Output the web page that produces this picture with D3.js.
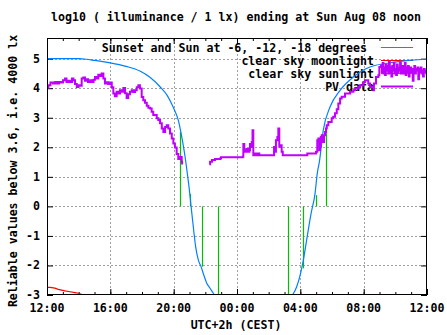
<!DOCTYPE html>
<html><head><meta charset="utf-8">
<script src="https://cdn.jsdelivr.net/npm/d3@7"></script>
<style>
html,body{margin:0;padding:0;background:#fff;}
svg{display:block;}
text{font-family:"DejaVu Sans Mono","Liberation Mono",monospace;font-weight:bold;font-size:11.6px;fill:#000;}
</style></head>
<body>
<script>
// ---- data (hours counted from Saturday 00:00; 12 = Sat 12:00, 36 = Sun 12:00) ----
const titleText = "log10 ( illuminance / 1 lx) ending at Sun Aug 08 noon";
const yLabelText = "Reliable values below 3.6, i.e. 4000 lx";
const xLabelText = "UTC+2h (CEST)";
const xTickHours = [12, 16, 20, 24, 28, 32, 36];
const xTickLabels = ["12:00", "16:00", "20:00", "00:00", "04:00", "08:00", "12:00"];
const yTicks = [-3, -2, -1, 0, 1, 2, 3, 4, 5];
const legendLabels = ["Sunset and Sun at -6, -12, -18 degrees", "clear sky moonlight", "clear sky sunlight", "PV data"];

// sunset / sun at -6, -12, -18 degrees (impulses from 0 to clear-sky value)
const sunEventHours = [20.42, 21.01, 21.81, 22.78, 27.24, 28.19, 28.97, 29.61];
const sunEventValues = [2.52, 0.42, -2.04, -3.5, -3.5, -2.1, 0.38, 2.55];

// clear sky moonlight
const moonData = [[12.0, -2.74], [12.2, -2.74], [12.5, -2.77], [12.71, -2.81], [13.14, -2.86], [13.45, -2.89], [13.77, -2.92], [13.99, -2.94], [14.29, -3.0], [14.6, -3.1]];

// clear sky sunlight
const sunData = [[12.0, 5.0], [13.0, 5.0], [14.0, 5.0], [14.5, 4.98], [15.0, 4.94], [16.0, 4.86], [17.0, 4.74], [17.87, 4.58], [18.5, 4.37], [19.14, 4.05], [19.6, 3.75], [19.96, 3.37], [20.3, 2.9], [20.47, 2.47], [20.62, 2.02], [20.72, 1.68], [20.89, 1.0], [20.97, 0.66], [21.1, 0.0], [21.24, -0.69], [21.39, -1.37], [21.56, -1.82], [21.73, -2.04], [21.87, -2.27], [22.09, -2.6], [22.3, -2.77], [22.5, -2.94], [22.7, -3.1], [27.3, -3.1], [27.5, -3.0], [27.77, -2.72], [28.0, -2.3], [28.19, -1.82], [28.44, -1.0], [28.68, -0.24], [28.93, 0.44], [29.07, 1.12], [29.2, 1.5], [29.45, 2.58], [29.88, 3.37], [30.51, 3.93], [31.35, 4.38], [32.4, 4.72], [34.09, 4.89], [35.0, 4.95], [36.0, 4.98]];

// PV data (null = gap)
const pvData = [[12.02, 4.02], [12.09, 4.10], [12.22, 4.19], [12.38, 4.16], [12.51, 4.21], [12.63, 4.16], [12.76, 4.21], [12.88, 4.19], [13.01, 4.27], [13.14, 4.33], [13.23, 4.21], [13.33, 4.25], [13.45, 4.21], [13.58, 4.33], [13.67, 4.27], [13.77, 4.14], [13.88, 4.04], [13.99, 4.10], [14.08, 4.08], [14.19, 4.33], [14.29, 4.36], [14.40, 4.25], [14.51, 4.30], [14.59, 4.21], [14.72, 4.27], [14.84, 4.21], [14.94, 4.29], [15.03, 4.38], [15.14, 4.33], [15.24, 4.46], [15.35, 4.41], [15.45, 4.50], [15.56, 4.33], [15.66, 4.16], [15.77, 4.20], [15.87, 4.14], [15.98, 4.19], [16.09, 4.03], [16.19, 3.82], [16.29, 3.73], [16.40, 3.88], [16.50, 3.82], [16.61, 3.93], [16.72, 3.88], [16.82, 4.01], [16.93, 3.83], [17.03, 3.67], [17.13, 3.80], [17.24, 3.88], [17.35, 3.93], [17.45, 3.87], [17.56, 3.93], [17.67, 4.03], [17.77, 4.10], [17.87, 3.99], [17.98, 3.70], [18.08, 3.59], [18.19, 3.51], [18.30, 3.41], [18.40, 3.34], [18.51, 3.31], [18.61, 3.20], [18.71, 3.09], [18.82, 3.09], [18.93, 2.98], [19.03, 2.92], [19.14, 2.81], [19.25, 2.64], [19.35, 2.52], [19.46, 2.69], [19.56, 2.75], [19.66, 2.64], [19.77, 2.47], [19.88, 2.30], [19.98, 2.13], [20.08, 1.99], [20.19, 1.77], [20.29, 1.60], [20.40, 1.67], [20.51, 1.51], [20.53, 1.42],
  null,
  [22.25, 1.43], [22.30, 1.51], [22.42, 1.57], [22.61, 1.60], [22.93, 1.62], [22.99, 1.66], [24.19, 1.66], [24.36, 1.68], [24.40, 2.11], [24.46, 1.90], [24.51, 1.85], [24.60, 1.94], [24.70, 1.85], [24.78, 1.90], [24.82, 2.11], [24.88, 2.01], [24.93, 2.18], [24.98, 2.58], [25.03, 1.73], [25.14, 1.79], [25.23, 1.73], [25.33, 1.79], [25.41, 1.73], [26.29, 1.73], [26.34, 2.01], [26.40, 1.85], [26.46, 2.24], [26.55, 2.35], [26.61, 2.64], [26.67, 2.02], [26.75, 2.07], [26.82, 1.85], [26.89, 1.73], [28.42, 1.73], [28.44, 1.79], [28.93, 1.79], [28.99, 1.85], [29.07, 2.24], [29.14, 2.30], [29.20, 1.90], [29.24, 2.02], [29.29, 2.35], [29.35, 2.41], [29.41, 2.18], [29.50, 2.41], [29.56, 2.52], [29.62, 2.64], [29.67, 2.75], [29.77, 2.86], [29.83, 2.86], [29.98, 2.98], [30.08, 3.03], [30.19, 3.15], [30.30, 3.29], [30.40, 3.48], [30.51, 3.65], [30.61, 3.71], [30.71, 3.71], [30.82, 3.82], [31.03, 3.82], [31.14, 3.88], [31.35, 3.93], [31.45, 3.99], [31.66, 4.04], [31.77, 4.10], [31.98, 4.21], [32.08, 4.27], [32.19, 4.27], [32.29, 4.16], [32.40, 4.04], [32.51, 4.04], [32.61, 3.93], [32.65, 4.16], [32.78, 4.38], [32.93, 4.44], [32.99, 4.72], [33.10, 4.78],
  [33.15, 4.55], [33.2, 4.85], [33.25, 4.5], [33.3, 4.7], [33.35, 4.45], [33.4, 4.8], [33.45, 4.6], [33.5, 4.75], [33.55, 4.5], [33.6, 4.9], [33.65, 4.55], [33.7, 4.7], [33.75, 4.4], [33.8, 4.75], [33.85, 4.6], [33.9, 4.85], [33.95, 4.5], [34.0, 4.65], [34.05, 4.45], [34.1, 4.8], [34.15, 4.55], [34.2, 4.7], [34.25, 4.6], [34.3, 4.85], [34.35, 4.5], [34.4, 4.6], [34.45, 4.75], [34.5, 4.5], [34.55, 4.65], [34.6, 4.85], [34.65, 4.45], [34.7, 4.7], [34.75, 4.55], [34.8, 4.75], [34.85, 4.4], [34.9, 4.6], [34.95, 4.7], [35.0, 4.55], [35.05, 4.65], [35.1, 4.25], [35.15, 4.6], [35.2, 4.75], [35.25, 4.5], [35.3, 4.65], [35.35, 4.6], [35.4, 4.7], [35.45, 4.3], [35.5, 4.65], [35.55, 4.55], [35.6, 4.7], [35.65, 4.5], [35.7, 4.6], [35.75, 4.4], [35.8, 4.65], [35.85, 4.55], [35.9, 4.6], [35.95, 4.5], [36.0, 4.55]];

// ---- drawing ----
const W = 447, H = 335;
const L = 47, R = 427, T = 38, B = 295;
const colors = {sun: "#00c000", moon: "#ff0000", clear: "#0080ff", pv: "#c000ff", grid: "#a0a0a0"};

const svg = d3.select("body").append("svg").attr("width", W).attr("height", H);
const x = d3.scaleLinear().domain([12, 36]).range([L, R]);
const y = d3.scaleLinear().domain([-3, 5.7]).range([B, T]);

svg.append("defs").append("clipPath").attr("id", "clip")
  .append("rect").attr("x", L).attr("y", T).attr("width", R - L).attr("height", B - T);

// grid
const grid = svg.append("g").attr("stroke", colors.grid).attr("stroke-width", 1).attr("stroke-dasharray", "2,2");
grid.selectAll("line.gx").data(xTickHours.slice(1, -1)).join("line")
  .attr("x1", d => Math.round(x(d)) + 0.5).attr("x2", d => Math.round(x(d)) + 0.5)
  .attr("y1", T).attr("y2", B);
grid.selectAll("line.gy").data(yTicks.slice(1)).join("line")
  .attr("y1", d => Math.round(y(d)) + 0.5).attr("y2", d => Math.round(y(d)) + 0.5)
  .attr("x1", L).attr("x2", R);

// axes (ticks inward, mirrored)
const minorHours = d3.range(12, 37);
function styleAxis(g) { g.select(".domain").remove(); g.selectAll("line").attr("stroke", "#000"); }
svg.append("g").attr("transform", `translate(0,${B})`)
  .call(d3.axisBottom(x).tickValues(minorHours).tickSize(-3).tickFormat(""))
  .call(styleAxis);
svg.append("g").attr("transform", `translate(0,${T})`)
  .call(d3.axisTop(x).tickValues(minorHours).tickSize(-3).tickFormat(""))
  .call(styleAxis);
svg.append("g").attr("transform", `translate(0,${B})`)
  .call(d3.axisBottom(x).tickValues(xTickHours).tickSize(-6).tickFormat(""))
  .call(styleAxis);
svg.append("g").attr("transform", `translate(0,${T})`)
  .call(d3.axisTop(x).tickValues(xTickHours).tickSize(-6).tickFormat(""))
  .call(styleAxis);
svg.append("g").attr("transform", `translate(${L},0)`)
  .call(d3.axisLeft(y).tickValues(yTicks).tickSize(-6).tickFormat(""))
  .call(styleAxis);
svg.append("g").attr("transform", `translate(${R},0)`)
  .call(d3.axisRight(y).tickValues(yTicks).tickSize(-6).tickFormat(""))
  .call(styleAxis);

// tick labels
svg.append("g").selectAll("text").data(xTickHours).join("text")
  .attr("x", d => x(d)).attr("y", 312).attr("text-anchor", "middle")
  .text((d, i) => xTickLabels[i]);
svg.append("g").selectAll("text").data(yTicks).join("text")
  .attr("x", 40).attr("y", d => y(d) + 4).attr("text-anchor", "end")
  .text(d => d3.format("d")(d).replace("−", "-"));

// titles
svg.append("text").attr("x", 236).attr("y", 21).attr("text-anchor", "middle").text(titleText);
svg.append("text").attr("x", 236).attr("y", 329).attr("text-anchor", "middle").text(xLabelText);
svg.append("text").attr("transform", "translate(17,171) rotate(-90)").attr("text-anchor", "middle").text(yLabelText);

// legend
const legendColors = [colors.sun, colors.moon, colors.clear, colors.pv];
const legend = svg.append("g");
legendLabels.forEach((lab, i) => {
  const ly = 47.5 + i * 13;
  legend.append("text").attr("x", i === 0 ? 367 : 374).attr("y", ly + 4).attr("text-anchor", "end").text(lab);
  legend.append("line").attr("x1", 381).attr("x2", 413).attr("y1", ly).attr("y2", ly)
    .attr("stroke", legendColors[i]).attr("stroke-width", i === 3 ? 2 : 1);
});

// data
const plot = svg.append("g").attr("clip-path", "url(#clip)");
plot.selectAll("line.ev").data(sunEventHours).join("line")
  .attr("x1", d => Math.round(x(d)) + 0.5).attr("x2", d => Math.round(x(d)) + 0.5)
  .attr("y1", y(0)).attr("y2", (d, i) => y(sunEventValues[i]))
  .attr("stroke", colors.sun).attr("stroke-width", 1.2);

const line = d3.line().defined(d => d !== null).x(d => x(d[0])).y(d => y(d[1]));
plot.append("path").datum(moonData).attr("d", line).attr("fill", "none")
  .attr("stroke", colors.moon).attr("stroke-width", 1.2);
plot.append("path").datum(sunData).attr("d", line.curve(d3.curveMonotoneX)).attr("fill", "none")
  .attr("stroke", colors.clear).attr("stroke-width", 1.2);
const pvLine = d3.line().defined(d => d !== null).x(d => x(d[0])).y(d => y(d[1])).curve(d3.curveStepAfter);
plot.append("path").datum(pvData).attr("d", pvLine).attr("fill", "none")
  .attr("stroke", colors.pv).attr("stroke-width", 2);

// border
svg.append("rect").attr("x", L + 0.5).attr("y", T + 0.5).attr("width", R - L - 1).attr("height", B - T - 1)
  .attr("fill", "none").attr("stroke", "#000").attr("stroke-width", 1);
</script>
</body></html>
